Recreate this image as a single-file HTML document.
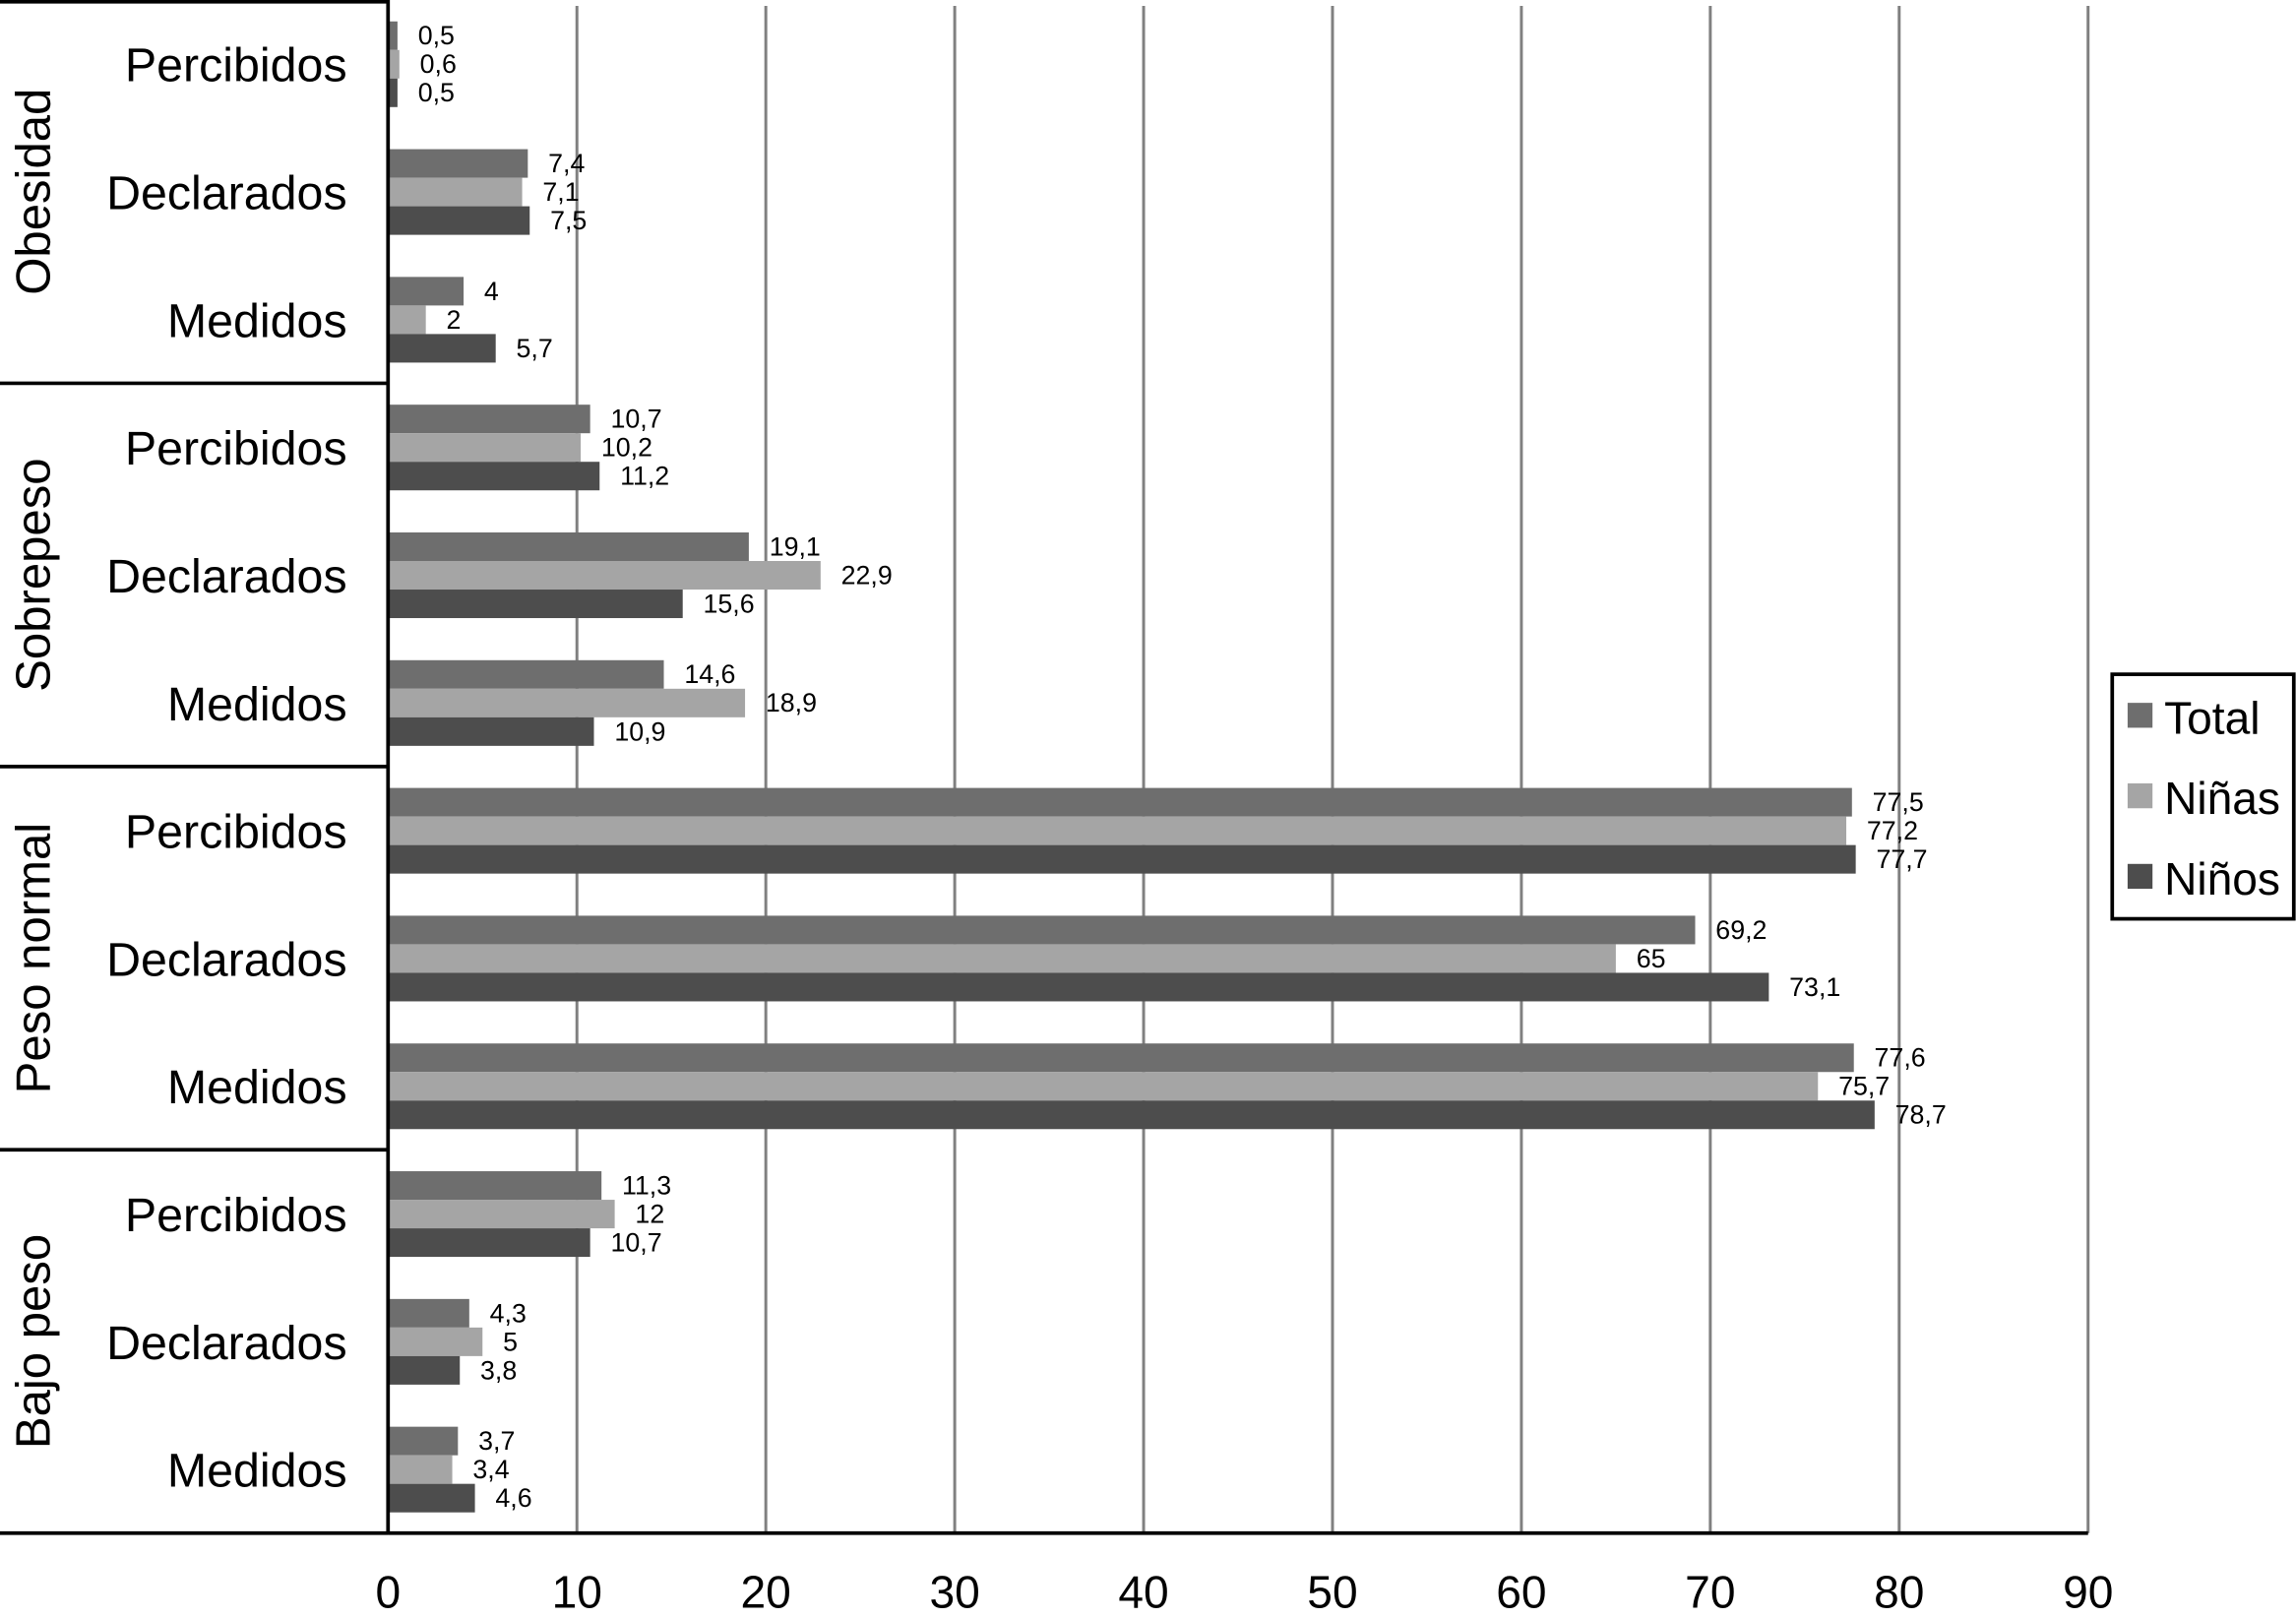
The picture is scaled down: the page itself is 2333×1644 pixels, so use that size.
<!DOCTYPE html>
<html><head><meta charset="utf-8"><style>
html,body{margin:0;padding:0;background:#fff;}
svg{display:block;font-family:"Liberation Sans",Arial,sans-serif;}
</style></head><body>
<svg id="chart" width="2333" height="1644" viewBox="0 0 1568 1105" preserveAspectRatio="none" xmlns="http://www.w3.org/2000/svg">
<g id="grid"></g>
<g id="bars"></g>
<g id="cats"></g>
<g id="ticks"></g>
<g>
<rect x="1442.5" y="460.5" width="124" height="167" fill="#fff" stroke="#000" stroke-width="2.5"/>
<rect x="1453" y="480" width="17" height="17" fill="#6e6e6e"/>
<text x="1478" y="501" font-size="31">Total</text>
<rect x="1453" y="535" width="17" height="17" fill="#a5a5a5"/>
<text x="1478" y="556" font-size="31">Niñas</text>
<rect x="1453" y="590" width="17" height="17" fill="#4d4d4d"/>
<text x="1478" y="611" font-size="31">Niños</text>
</g>
</svg>
<script>
const groups = ["Obesidad", "Sobrepeso", "Peso normal", "Bajo peso"];
const subcats = ["Percibidos", "Declarados", "Medidos"];
const totalValues = [0.5, 7.4, 4, 10.7, 19.1, 14.6, 77.5, 69.2, 77.6, 11.3, 4.3, 3.7];
const ninasValues = [0.6, 7.1, 2, 10.2, 22.9, 18.9, 77.2, 65, 75.7, 12, 5, 3.4];
const ninosValues = [0.5, 7.5, 5.7, 11.2, 15.6, 10.9, 77.7, 73.1, 78.7, 10.7, 3.8, 4.6];
const tickValues = [0, 10, 20, 30, 40, 50, 60, 70, 80, 90];

const NS = "http://www.w3.org/2000/svg";
const X0 = 265, X1 = 1426, XMAX = 90, YTOP = 0, YBOT = 1047;
const rows = groups.length * subcats.length;
const rowH = (YBOT - YTOP) / rows;
function xs(v){ return X0 + v / XMAX * (X1 - X0); }
function rowCenter(i){ return YTOP + rowH * (i + 0.5); }
function mk(tag, attrs, parent){ const e = document.createElementNS(NS, tag); for (const k in attrs) e.setAttribute(k, attrs[k]); parent.appendChild(e); return e; }
function fmt(v){ return String(v).replace('.', ','); }

const gridG = document.getElementById('grid');
const barsG = document.getElementById('bars');
const catsG = document.getElementById('cats');
const ticksG = document.getElementById('ticks');

tickValues.forEach(t => {
  if (t > 0) {
    const l = mk('line', {x1: xs(t), x2: xs(t), y1: 4, y2: YBOT, stroke: '#808080', 'stroke-width': 2}, gridG);
    
    
  }
  const tx = mk('text', {x: xs(t), y: 1098, 'font-size': 31, 'text-anchor': 'middle'}, ticksG);
  tx.textContent = t;
  
  
});

const series = [
  {vals: totalValues, color: '#6e6e6e', name: 'total'},
  {vals: ninasValues, color: '#a5a5a5', name: 'ninas'},
  {vals: ninosValues, color: '#4d4d4d', name: 'ninos'}
];
const barH = 19.5;
for (let i = 0; i < rows; i++) {
  const c = rowCenter(i);
  series.forEach((s, k) => {
    const y = c - 29 + k * barH;
    const v = s.vals[i];
    const r = mk('rect', {x: X0, y: y, width: xs(v) - X0, height: barH, fill: s.color}, barsG);
    
    
    const t = mk('text', {x: xs(v) + 14, y: y + barH / 2 + 6, 'font-size': 18}, barsG);
    t.textContent = fmt(v);
    
    
  });
  const ct = mk('text', {x: 237, y: c + 12, 'font-size': 32.5, 'text-anchor': 'end'}, catsG);
  ct.textContent = subcats[i % 3];
  
  
}
groups.forEach((g, j) => {
  const y0 = YTOP + j * 3 * rowH, y1 = y0 + 3 * rowH;
  const gl = mk('text', {x: 0, y: 0, 'font-size': 33, 'text-anchor': 'middle', transform: 'translate(34,' + ((y0 + y1) / 2) + ') rotate(-90)'}, catsG);
  gl.textContent = g;
  
  
  const ln = mk('line', {x1: 0, x2: X0, y1: y1, y2: y1, stroke: '#000', 'stroke-width': 2.5}, catsG);
  
  
});
const boxTop = mk('line', {x1: 0, x2: X0, y1: 1.2, y2: 1.2, stroke: '#000', 'stroke-width': 2.5}, catsG);


const yAxis = mk('line', {x1: X0, x2: X0, y1: 0, y2: YBOT + 1, stroke: '#000', 'stroke-width': 2.5}, catsG);


const xAxis = mk('line', {x1: X0, x2: X1, y1: YBOT, y2: YBOT, stroke: '#000', 'stroke-width': 2.5}, catsG);


</script>
</body></html>
